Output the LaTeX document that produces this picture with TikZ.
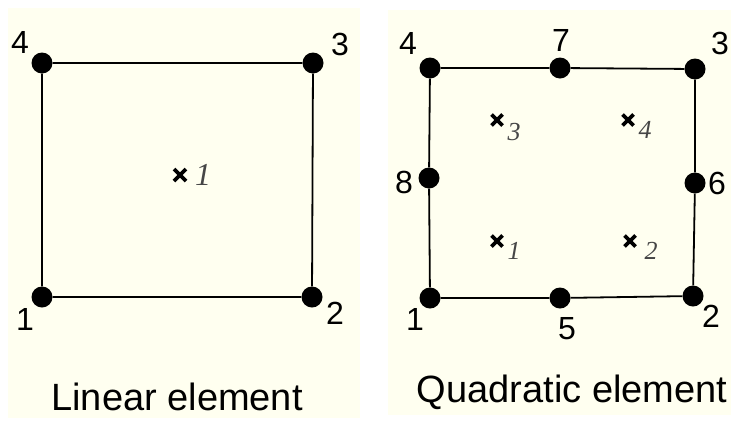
\documentclass[tikz,border=0pt]{standalone}
\usepackage{fontspec}
\setmainfont{Liberation Sans}
\newfontfamily\ser{Liberation Serif}
\definecolor{panelbg}{RGB}{255,255,240}
\definecolor{subgray}{RGB}{70,70,70}
\begin{document}
\begin{tikzpicture}[x=1pt,y=-1pt,
  dot/.style={circle,fill=black,inner sep=0pt,minimum size=21pt},
  edge/.style={line width=1.8pt},
  num/.style={inner sep=0pt,font=\fontsize{32}{32}\selectfont},
  captext/.style={inner sep=0pt,anchor=base,font=\fontsize{38}{38}\selectfont},
  gsub/.style={inner sep=0pt,text=subgray,font=\ser\itshape\fontsize{26}{26}\selectfont},
  gbig/.style={inner sep=0pt,text=subgray,font=\ser\itshape\fontsize{32}{32}\selectfont},
  xmark/.style={line width=3.6pt}]
\useasboundingbox (0,0) rectangle (731,421);
\fill[panelbg] (8,8) rectangle (360,418);
\fill[panelbg] (388,10) rectangle (731,415);
% linear element
\node[dot] (a1) at (42,297) {};
\node[dot] (a2) at (312,297) {};
\node[dot] (a3) at (313,63) {};
\node[dot] (a4) at (42,63) {};
\draw[edge] (a1) -- (a2) -- (a3) -- (a4) -- (a1);
\node[num] (la4) at (20,42) {4};
\node[num] (la3) at (340,44) {3};
\node[num] (la1) at (25,319) {1};
\node[num] (la2) at (335,313) {2};
\coordinate (ga) at (180,175);
\draw[xmark] ([shift={(-6,-6)}]ga) -- ([shift={(6,6)}]ga) ([shift={(-6,6)}]ga) -- ([shift={(6,-6)}]ga);
\node[gbig] (gla) at (203,175) {1};
\node[captext] (capa) at (177,410) {Linear element};
% quadratic element
\node[dot] (b1) at (430,298) {};
\node[dot] (b5) at (560,298) {};
\node[dot] (b2) at (693,296) {};
\node[dot] (b6) at (695,183) {};
\node[dot] (b3) at (695,69) {};
\node[dot] (b7) at (560,68) {};
\node[dot] (b4) at (430,68) {};
\node[dot] (b8) at (429,178) {};
\draw[edge] (b1) -- (b5) -- (b2) -- (b6) -- (b3) -- (b7) -- (b4) -- (b8) -- (b1);
\node[num] (lb4) at (408,43) {4};
\node[num] (lb7) at (561,40) {7};
\node[num] (lb3) at (720,43) {3};
\node[num] (lb8) at (404,182) {8};
\node[num] (lb6) at (717,183) {6};
\node[num] (lb1) at (415,319) {1};
\node[num] (lb5) at (567,329) {5};
\node[num] (lb2) at (711,316) {2};
\foreach \n/\x/\y/\sx/\sy in {1/497/241/514/251, 2/630/241/651/251, 3/497/120/514/132, 4/628/120/645/130}{
  \coordinate (g\n) at (\x,\y);
  \draw[xmark] ([shift={(-5.5,-5.5)}]g\n) -- ([shift={(5.5,5.5)}]g\n) ([shift={(-5.5,5.5)}]g\n) -- ([shift={(5.5,-5.5)}]g\n);
  \node[gsub] (gl\n) at (\sx,\sy) {\n};
}
\node[captext] (capb) at (572,402) {Quadratic element};
\end{tikzpicture}
\end{document}
